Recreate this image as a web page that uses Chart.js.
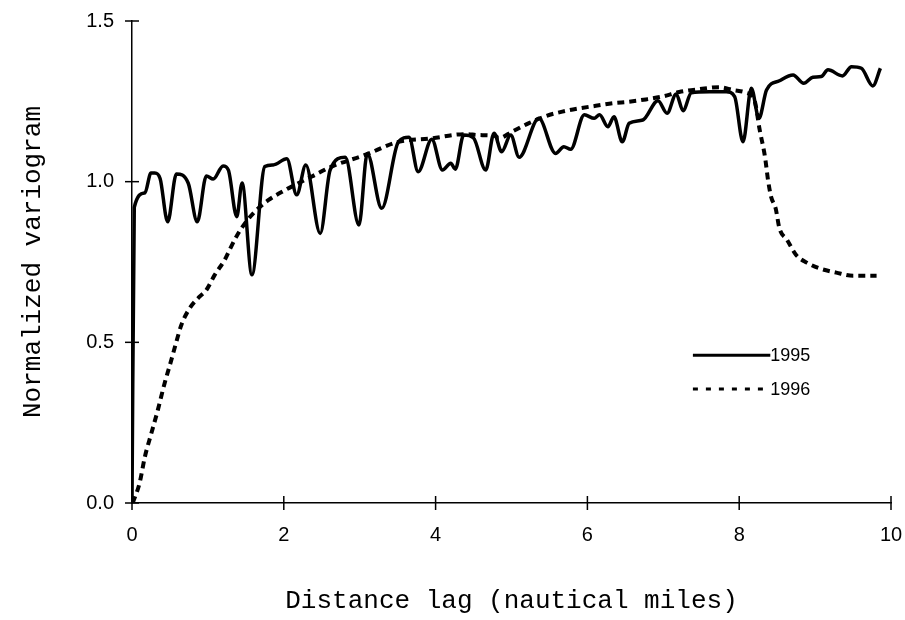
<!DOCTYPE html>
<html>
<head>
<meta charset="utf-8">
<script src="https://cdn.jsdelivr.net/npm/chart.js@4/dist/chart.umd.min.js"></script>
<style>
  html, body { margin: 0; padding: 0; background: #fff; }
  #wrap { width: 905px; height: 620px; }
</style>
</head>
<body>
<div id="wrap"><canvas id="grafica" width="905" height="620"></canvas></div>
<script>
// Datos (distancia en millas nauticas, variograma normalizado)
const lag1995 = [0, 0.03, 0.17, 0.25, 0.30, 0.37, 0.47, 0.585, 0.74, 0.86, 0.98, 1.07, 1.20, 1.27, 1.38, 1.45, 1.58, 1.75, 1.86, 2.04, 2.17, 2.29, 2.48, 2.61, 2.81, 2.99, 3.10, 3.29, 3.51, 3.65, 3.77, 3.95, 4.09, 4.20, 4.26, 4.37, 4.50, 4.66, 4.77, 4.87, 4.99, 5.10, 5.36, 5.58, 5.69, 5.78, 5.96, 6.09, 6.16, 6.27, 6.35, 6.46, 6.55, 6.73, 6.93, 7.05, 7.17, 7.26, 7.37, 7.61, 7.83, 7.94, 8.05, 8.16, 8.26, 8.36, 8.53, 8.71, 8.85, 8.97, 9.08, 9.17, 9.36, 9.48, 9.61, 9.76, 9.86];
const vario1995 = [0, 0.92, 0.965, 1.027, 1.027, 1.01, 0.875, 1.024, 0.996, 0.875, 1.018, 1.008, 1.049, 1.036, 0.891, 0.996, 0.71, 1.047, 1.052, 1.071, 0.959, 1.052, 0.839, 1.036, 1.076, 0.865, 1.088, 0.917, 1.124, 1.138, 1.031, 1.132, 1.036, 1.057, 1.039, 1.145, 1.136, 1.036, 1.151, 1.093, 1.145, 1.076, 1.197, 1.088, 1.109, 1.101, 1.208, 1.197, 1.208, 1.171, 1.202, 1.124, 1.182, 1.192, 1.252, 1.213, 1.273, 1.221, 1.277, 1.28, 1.28, 1.265, 1.124, 1.291, 1.197, 1.285, 1.314, 1.332, 1.306, 1.325, 1.327, 1.348, 1.329, 1.358, 1.353, 1.298, 1.353];

const lag1996 = [0.01, 0.10, 0.17, 0.255, 0.34, 0.43, 0.50, 0.585, 0.65, 0.76, 0.89, 0.98, 1.09, 1.22, 1.29, 1.38, 1.49, 1.62, 1.80, 2.02, 2.19, 2.37, 2.63, 3.07, 3.51, 3.95, 4.39, 4.57, 4.79, 4.83, 5.01, 5.23, 5.45, 5.67, 5.89, 6.11, 6.33, 6.55, 6.77, 6.99, 7.21, 7.48, 7.74, 7.92, 8.09, 8.20, 8.27, 8.34, 8.38, 8.42, 8.48, 8.53, 8.63, 8.75, 8.89, 9.06, 9.28, 9.50, 9.81];
const vario1996 = [0, 0.062, 0.144, 0.217, 0.289, 0.373, 0.43, 0.502, 0.554, 0.606, 0.642, 0.663, 0.71, 0.756, 0.79, 0.831, 0.871, 0.907, 0.943, 0.974, 0.995, 1.016, 1.047, 1.083, 1.124, 1.135, 1.148, 1.145, 1.142, 1.135, 1.156, 1.182, 1.204, 1.218, 1.228, 1.236, 1.244, 1.249, 1.256, 1.265, 1.279, 1.288, 1.294, 1.285, 1.277, 1.254, 1.161, 1.077, 1.005, 0.953, 0.917, 0.855, 0.819, 0.772, 0.748, 0.73, 0.717, 0.707, 0.707];

const ticksX = [0, 2, 4, 6, 8, 10];
const ticksY = [0, 0.5, 1.0, 1.5];
const etiquetas = ["1995", "1996"];

const aPuntos = (xs, ys) => xs.map((x, i) => ({ x: x, y: ys[i] }));

// marcas de eje que cruzan la linea + leyenda dentro del area
const marcasYLeyenda = {
    id: "marcasYLeyenda",
    afterDraw(chart) {
        const ctx = chart.ctx;
        const sx = chart.scales.x, sy = chart.scales.y;
        const area = chart.chartArea;
        ctx.save();
        ctx.strokeStyle = "#000";
        ctx.lineWidth = 1.5;
        ticksY.forEach(v => {
            const py = sy.getPixelForValue(v);
            ctx.beginPath(); ctx.moveTo(area.left - 7, py); ctx.lineTo(area.left + 7, py); ctx.stroke();
        });
        ticksX.forEach(v => {
            const px = sx.getPixelForValue(v);
            ctx.beginPath(); ctx.moveTo(px, area.bottom - 7); ctx.lineTo(px, area.bottom + 7); ctx.stroke();
        });

        // leyenda
        const x0 = sx.getPixelForValue(7.39), x1 = sx.getPixelForValue(8.41);
        const filas = [sy.getPixelForValue(0.46), sy.getPixelForValue(0.355)];
        ctx.font = "18px 'Liberation Sans', Arial, sans-serif";
        ctx.fillStyle = "#000";
        ctx.textBaseline = "middle";
        filas.forEach((py, i) => {
            ctx.beginPath();
            ctx.lineWidth = 3;
            ctx.setLineDash(i === 0 ? [] : [5, 8]);
            ctx.moveTo(x0, py); ctx.lineTo(x1, py); ctx.stroke();
            ctx.setLineDash([]);
            ctx.fillText(etiquetas[i], x1, py + 1);
        });
        ctx.restore();
    }
};

new Chart(document.getElementById("grafica"), {
    type: "line",
    data: {
        datasets: [
            { label: etiquetas[0], data: aPuntos(lag1995, vario1995), borderColor: "#000", borderWidth: 3.5, pointRadius: 0, cubicInterpolationMode: "monotone", fill: false },
            { label: etiquetas[1], data: aPuntos(lag1996, vario1996), borderColor: "#000", borderWidth: 4, borderDash: [7, 5], pointRadius: 0, cubicInterpolationMode: "monotone", fill: false }
        ]
    },
    options: {
        responsive: false,
        animation: false,
        layout: { padding: { top: 21, right: 14, left: 0, bottom: 0 } },
        plugins: { legend: { display: false }, tooltip: { enabled: false } },
        scales: {
            x: {
                type: "linear", min: 0, max: 10,
                afterFit: s => { s.height = 117; s.paddingLeft = 0; s.paddingRight = 0; },
                afterBuildTicks: s => { s.ticks = ticksX.map(v => ({ value: v })); },
                grid: { drawOnChartArea: false, drawTicks: false },
                border: { color: "#000", width: 1.5 },
                ticks: { padding: 20, color: "#000", font: { family: "'Liberation Sans', Arial, sans-serif", size: 20 } },
                title: { display: true, text: "Distance lag (nautical miles)", color: "#000", padding: { top: 0, bottom: 3 }, font: { family: "'Liberation Mono', 'Courier New', monospace", size: 26 } }
            },
            y: {
                min: 0, max: 1.5,
                afterFit: s => { s.width = 132; s.paddingTop = 0; s.paddingBottom = 0; },
                afterBuildTicks: s => { s.ticks = ticksY.map(v => ({ value: v })); },
                grid: { drawOnChartArea: false, drawTicks: false },
                border: { color: "#000", width: 1.5 },
                ticks: { padding: 18, color: "#000", callback: v => v.toFixed(1), font: { family: "'Liberation Sans', Arial, sans-serif", size: 20 } },
                title: { display: true, text: "Normalized variogram", color: "#000", padding: { top: 18, bottom: 0 }, font: { family: "'Liberation Mono', 'Courier New', monospace", size: 26 } }
            }
        }
    },
    plugins: [marcasYLeyenda]
});
</script>
</body>
</html>
